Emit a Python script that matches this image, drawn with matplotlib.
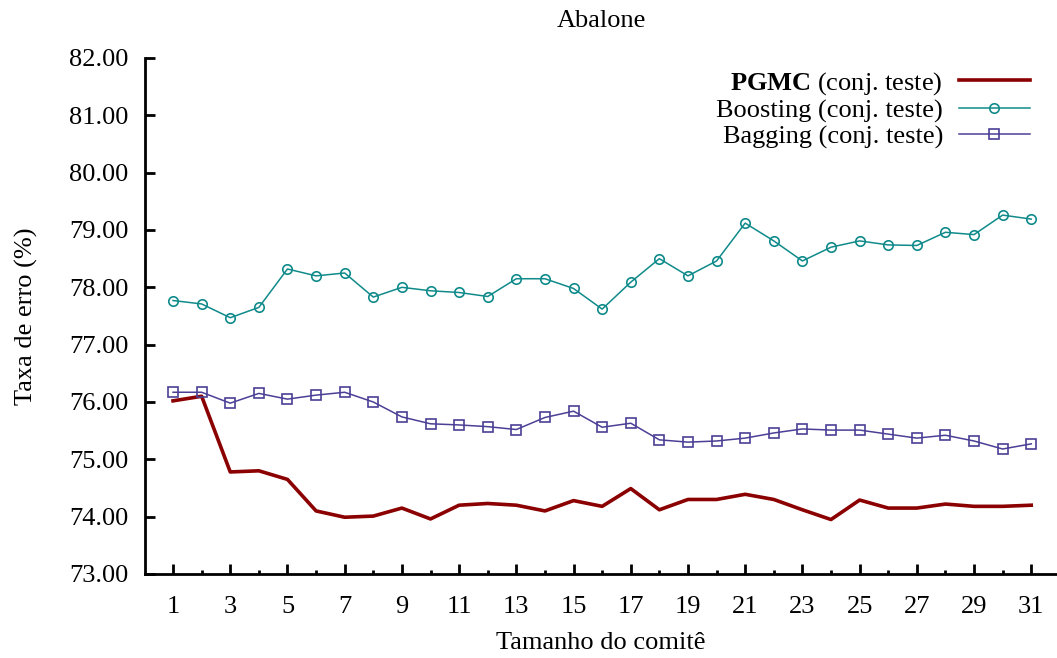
import matplotlib
matplotlib.use("Agg")
import matplotlib.pyplot as plt
from matplotlib.ticker import MultipleLocator, FormatStrFormatter

plt.rcParams['font.family'] = ['Liberation Serif', 'DejaVu Serif']
plt.rcParams['mathtext.fontset'] = 'custom'
plt.rcParams['mathtext.rm'] = 'Liberation Serif'
plt.rcParams['mathtext.bf'] = 'Liberation Serif:bold'

title = "Abalone"
xlabel = "Tamanho do comitê"
ylabel = "Taxa de erro (%)"

committee = list(range(1, 32))
pgmc = [76.02, 76.10, 74.78, 74.80, 74.65, 74.10, 73.99, 74.01, 74.15, 73.96,
        74.20, 74.23, 74.20, 74.10, 74.28, 74.18, 74.49, 74.12, 74.30, 74.30,
        74.39, 74.30, 74.12, 73.95, 74.29, 74.15, 74.15, 74.22, 74.18, 74.18, 74.20]
boosting = [77.77, 77.71, 77.47, 77.65, 78.32, 78.20, 78.25, 77.83, 78.00, 77.94,
            77.91, 77.84, 78.15, 78.15, 77.98, 77.62, 78.09, 78.50, 78.20, 78.46,
            79.12, 78.81, 78.46, 78.70, 78.81, 78.74, 78.73, 78.96, 78.92, 79.26, 79.19]
bagging = [76.17, 76.17, 75.98, 76.15, 76.05, 76.12, 76.17, 76.00, 75.74, 75.62,
           75.60, 75.57, 75.52, 75.73, 75.84, 75.56, 75.63, 75.34, 75.30, 75.32,
           75.37, 75.46, 75.53, 75.51, 75.51, 75.44, 75.37, 75.42, 75.32, 75.18, 75.27]

labels = [r"$\mathbf{PGMC}$ (conj. teste)", "Boosting (conj. teste)", "Bagging (conj. teste)"]

fig = plt.figure(figsize=(10.57, 6.58), dpi=100)
ax = fig.add_axes([145/1057, (658-574)/658, (1057-145)/1057, (574-58)/658])

ax.plot(committee, pgmc, color='#8b0000', lw=2.6, label=labels[0])
ax.plot(committee, boosting, color='#108a8a', lw=1.1, marker='o', ms=6.8,
        mfc='none', mec='#108a8a', mew=1.2, label=labels[1])
ax.plot(committee, bagging, color='#4b3f96', lw=1.1, marker='s', ms=6.8,
        mfc='none', mec='#4b3f96', mew=1.2, label=labels[2])

ax.set_xlim(0.02, 31.9)
ax.set_ylim(73, 82)
ax.xaxis.set_major_locator(plt.FixedLocator(list(range(1, 32, 2))))
ax.xaxis.set_minor_locator(plt.FixedLocator(list(range(2, 31, 2))))
ax.yaxis.set_major_locator(MultipleLocator(1))
ax.yaxis.set_major_formatter(FormatStrFormatter('%.2f'))

for s in ['top', 'right']:
    ax.spines[s].set_visible(False)
for s in ['left', 'bottom']:
    ax.spines[s].set_linewidth(2)

ax.tick_params(axis='both', which='major', direction='in', length=7, width=2,
               labelsize=19)
ax.tick_params(axis='x', which='major', pad=16)
ax.tick_params(axis='x', which='minor', direction='in', length=3, width=2)
ax.tick_params(axis='y', which='major', pad=12)

ax.set_title(title, fontsize=19, pad=22)
ax.set_xlabel(xlabel, fontsize=19, labelpad=10)
ax.set_ylabel(ylabel, fontsize=19, labelpad=22)

leg = ax.legend(loc='upper right', bbox_to_anchor=(1030/1057, 1 - 70/658),
                bbox_transform=fig.transFigure, frameon=False, markerfirst=False,
                numpoints=1, handlelength=2.7, handletextpad=0.6, labelspacing=0.08,
                fontsize=19, borderpad=0, borderaxespad=0)

fig.savefig("out.png", dpi=100)
